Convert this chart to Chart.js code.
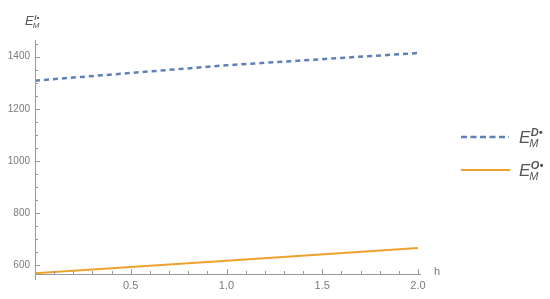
<!DOCTYPE html>
<html>
<head>
<meta charset="utf-8">
<script src="https://cdn.jsdelivr.net/npm/chart.js@4/dist/chart.umd.min.js"></script>
<style>
  body { margin: 0; background: #fff; }
  #wrap { position: relative; width: 550px; height: 299px; }
</style>
</head>
<body>
<div id="wrap"><canvas id="myLineChart" width="550" height="299"></canvas></div>
<script>
// values
const hValues = [0, 1.0, 2.0];
const eMD = [1308, 1367, 1414];
const eMO = [569, 617, 666];
const yLabels = [600, 800, 1000, 1200, 1400];
const xLabels = [0.5, 1.0, 1.5, 2.0];

const blue = "#5e81b5";
const orange = "#eca22e";
const axisGray = "#9a9a9a";
const textGray = "#7a7a7a";

function drawE(ctx, x, y, sup, size) {
  ctx.save();
  ctx.fillStyle = "#555";
  ctx.textBaseline = "alphabetic";
  ctx.textAlign = "left";
  ctx.font = "italic " + size + "px 'Liberation Sans'";
  ctx.fillText("E", x, y);
  let w = ctx.measureText("E").width;
  ctx.font = "italic bold " + Math.round(size * 0.62) + "px 'Liberation Sans'";
  ctx.fillText(sup, x + w + 0.5, y - size * 0.42);
  ctx.font = "italic " + Math.round(size * 0.62) + "px 'Liberation Sans'";
  ctx.fillText("M", x + w - 1, y + size * 0.22);
  ctx.restore();
}

// axes drawn Mathematica-style: ticks pointing into the plot
const axesPlugin = {
  id: "axesPlugin",
  afterDatasetsDraw(chart) {
    const ctx = chart.ctx;
    const xs = chart.scales.x;
    const ys = chart.scales.y;
    const x0 = xs.getPixelForValue(0);
    const yb = chart.chartArea.bottom;
    ctx.save();
    ctx.strokeStyle = axisGray;
    ctx.lineWidth = 1;
    ctx.beginPath();
    ctx.moveTo(x0 + 0.5, chart.chartArea.top);
    ctx.lineTo(x0 + 0.5, yb + 6);
    ctx.moveTo(x0, yb + 0.5);
    ctx.lineTo(chart.chartArea.right + 3, yb + 0.5);
    // y ticks every 50
    for (let v = 600; v <= 1450; v += 50) {
      const p = Math.round(ys.getPixelForValue(v)) + 0.5;
      const len = v % 200 === 0 ? 5 : 3;
      ctx.moveTo(x0, p);
      ctx.lineTo(x0 + len, p);
    }
    // x ticks every 0.1
    for (let i = 1; i <= 20; i++) {
      const p = Math.round(xs.getPixelForValue(i / 10)) + 0.5;
      const len = i % 5 === 0 ? 5 : 3;
      ctx.moveTo(p, yb);
      ctx.lineTo(p, yb - len);
    }
    ctx.stroke();

    ctx.fillStyle = textGray;
    ctx.font = "11px 'Liberation Sans'";
    ctx.textAlign = "left";
    ctx.textBaseline = "middle";
    ctx.fillText("h", 434, 272);

    drawE(ctx, 25, 25, "i\u2022", 13);

    // legend
    ctx.lineWidth = 2.5;
    ctx.strokeStyle = blue;
    ctx.setLineDash([6, 3.5]);
    ctx.beginPath();
    ctx.moveTo(461, 137);
    ctx.lineTo(509, 137);
    ctx.stroke();
    ctx.setLineDash([]);
    ctx.lineWidth = 2;
    ctx.strokeStyle = orange;
    ctx.beginPath();
    ctx.moveTo(461, 170);
    ctx.lineTo(510, 170);
    ctx.stroke();
    drawE(ctx, 519, 143, "D\u2022", 17);
    drawE(ctx, 519, 176, "O\u2022", 17);
    ctx.restore();
  }
};

const ctx1 = document.getElementById("myLineChart");

new Chart(ctx1, {
  type: "line",
  data: {
    labels: hValues,
    datasets: [
      {
        label: "E_M^D",
        data: eMD,
        borderColor: blue,
        borderWidth: 2.5,
        borderDash: [5, 4],
        pointRadius: 0,
        tension: 0,
      },
      {
        label: "E_M^O",
        data: eMO,
        borderColor: orange,
        borderWidth: 2,
        pointRadius: 0,
        tension: 0,
      },
    ],
  },
  plugins: [axesPlugin],
  options: {
    responsive: false,
    animation: false,
    layout: { padding: { left: 0, top: 40, right: 132, bottom: 0 } },
    plugins: { legend: { display: false }, tooltip: { enabled: false } },
    scales: {
      x: {
        type: "linear",
        min: 0,
        max: 2,
        grid: { display: false, drawTicks: false },
        border: { display: false },
        afterFit: (s) => { s.height = 25; },
        afterBuildTicks: (s) => { s.ticks = xLabels.map((v) => ({ value: v })); },
        ticks: {
          padding: 5,
          color: textGray,
          font: { family: "Liberation Sans", size: 11 },
          maxRotation: 0,
          callback: (v) => v.toFixed(1),
        },
      },
      y: {
        min: 566,
        max: 1464,
        grid: { display: false, drawTicks: false },
        border: { display: false },
        afterFit: (s) => { s.width = 35; },
        afterBuildTicks: (s) => { s.ticks = yLabels.map((v) => ({ value: v })); },
        ticks: {
          padding: 5,
          color: textGray,
          font: { family: "Liberation Sans", size: 10 },
          callback: (v) => String(v),
        },
      },
    },
  },
});
</script>
</body>
</html>
